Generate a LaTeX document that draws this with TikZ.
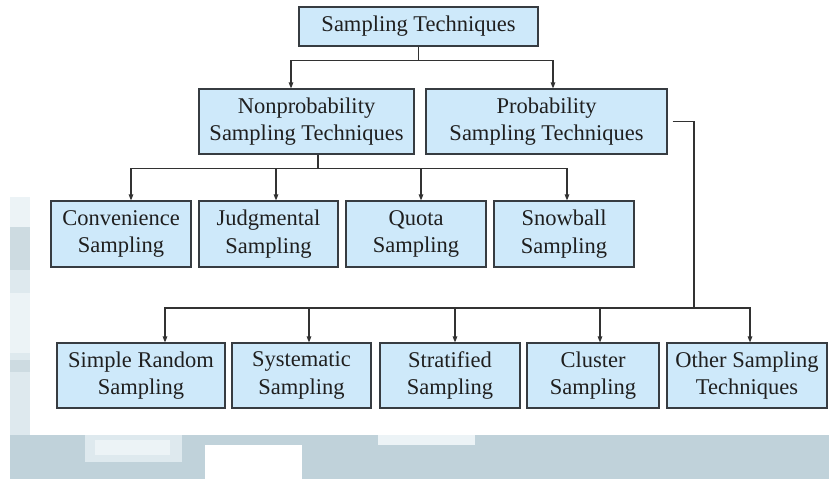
\documentclass[tikz,border=0pt]{standalone}
\usepackage{fontspec}
\setmainfont{Liberation Serif}
\usetikzlibrary{arrows.meta}
\definecolor{boxfill}{RGB}{206,233,250}
\definecolor{boxline}{RGB}{55,60,65}
\definecolor{wire}{RGB}{50,50,50}
\definecolor{band}{RGB}{192,210,218}
\definecolor{bandlight}{RGB}{222,233,238}
\definecolor{bandpale}{RGB}{236,243,246}
\tikzset{
  box/.style={draw=boxline, line width=1.1pt, fill=boxfill, align=center,
    inner sep=0pt, font=\fontsize{22.5}{27.5}\selectfont, text=black!88},
  link/.style={draw=wire, line width=1.1pt},
  arr/.style={link, -{Triangle[length=6pt,width=4.5pt]}},
}
\begin{document}
\begin{tikzpicture}[x=1pt,y=-1pt]
  % page area and faint slide decoration behind the chart
  \useasboundingbox (0,0) rectangle (829,479);
  \fill[white] (0,0) rectangle (829,479);
  \fill[band] (10,435) rectangle (829,479);
  \fill[bandlight] (85,435) rectangle (182,462);
  \fill[bandpale] (95,440) rectangle (170,455);
  \fill[white] (205,445) rectangle (302,479);
  \fill[bandpale] (378,435) rectangle (475,445);
  \fill[bandpale] (10,197) rectangle (30,435);
  \fill[band!80!white] (10,227) rectangle (30,270);
  \fill[bandlight] (10,270) rectangle (30,293);
  \fill[bandlight] (10,353) rectangle (30,435);
  \fill[band!80!white] (10,360) rectangle (30,372);

  % root
  \node[box, minimum width=239pt, minimum height=39pt] (root) at (418.5,26.5) {Sampling Techniques};

  % second level
  \node[box, minimum width=215pt, minimum height=65pt] (nonprob) at (306.5,121.5)
    {Nonprobability\\Sampling Techniques};
  \node[box, minimum width=241pt, minimum height=65pt] (prob) at (546.5,121.5)
    {Probability\\Sampling Techniques};

  % nonprobability methods
  \node[box, minimum width=140pt, minimum height=66pt] (conv) at (121,234) {Convenience\\Sampling};
  \node[box, minimum width=139pt, minimum height=66pt] (judg) at (268.5,234) {Judgmental\\Sampling};
  \node[box, minimum width=140pt, minimum height=66pt] (quota) at (416,234) {Quota\\Sampling};
  \node[box, minimum width=140pt, minimum height=66pt] (snow) at (564,234) {Snowball\\Sampling};

  % probability methods
  \node[box, minimum width=168pt, minimum height=65pt] (srs) at (141,375.5) {Simple Random\\Sampling};
  \node[box, minimum width=139pt, minimum height=65pt] (sys) at (301.5,375.5) {Systematic\\Sampling};
  \node[box, minimum width=140pt, minimum height=65pt] (strat) at (450,375.5) {Stratified\\Sampling};
  \node[box, minimum width=132pt, minimum height=65pt] (clus) at (593,375.5) {Cluster\\Sampling};
  \node[box, minimum width=160pt, minimum height=65pt] (other) at (747,375.5) {Other Sampling\\Techniques};

  % root -> second level
  \coordinate (rj) at ([yshift=-14pt]root.south);
  \draw[link] (root.south) -- (rj);
  \draw[arr] (rj) -| ([xshift=-15.5pt]nonprob.north);
  \draw[arr] (rj) -| ([xshift=6.5pt]prob.north);

  % nonprobability branch
  \coordinate (nj) at ([xshift=11.5pt,yshift=-14pt]nonprob.south);
  \draw[link] ([xshift=11.5pt]nonprob.south) -- (nj);
  \draw[arr] (nj) -| ([xshift=10pt]conv.north);
  \draw[arr] (nj) -| ([xshift=7.5pt]judg.north);
  \draw[arr] (nj) -| ([xshift=5pt]quota.north);
  \draw[arr] (nj) -| ([xshift=3pt]snow.north);

  % probability branch
  \coordinate (pr) at ([xshift=5pt]prob.east);
  \coordinate (pj) at (694,308);
  \draw[link] (pr) -| (pj);
  \draw[arr] (pj) -| ([xshift=24pt]srs.north);
  \draw[arr] (pj) -| ([xshift=7.5pt]sys.north);
  \draw[arr] (pj) -| ([xshift=5pt]strat.north);
  \draw[arr] (pj) -| ([xshift=7pt]clus.north);
  \draw[arr] (pj) -| ([xshift=3pt]other.north);
\end{tikzpicture}
\end{document}
